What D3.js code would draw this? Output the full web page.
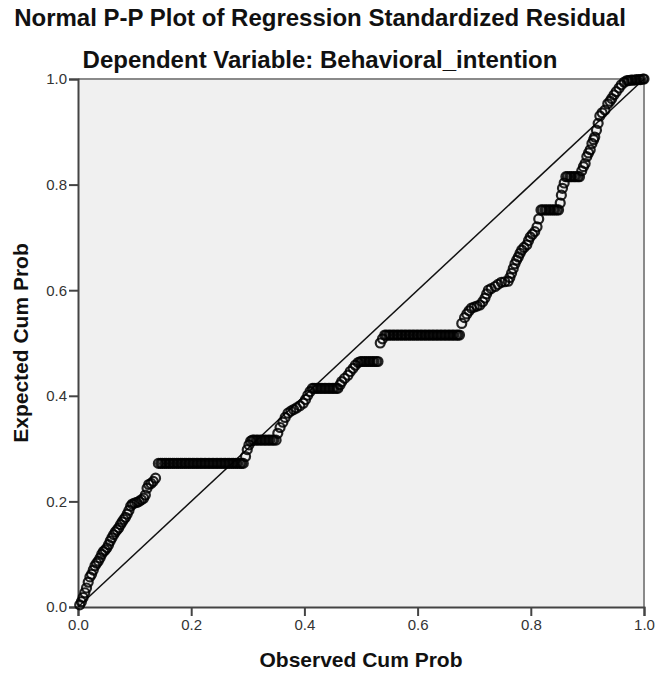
<!DOCTYPE html>
<html>
<head>
<meta charset="utf-8">
<script src="https://cdn.jsdelivr.net/npm/d3@7"></script>
<style>
  body { margin: 0; background: #fff; }
  text { font-family: "Liberation Sans", Arial, sans-serif; }
</style>
</head>
<body>
<div id="chart"></div>
<script>
// values
var titleText = "Normal P-P Plot of Regression Standardized Residual";
var subtitleText = "Dependent Variable: Behavioral_intention";
var xTicks = [0, 0.2, 0.4, 0.6, 0.8, 1.0];
var yTicks = [0, 0.2, 0.4, 0.6, 0.8, 1.0];

var observed = [
  // rise from origin (43)
  0.003, 0.006, 0.009, 0.012, 0.015, 0.018, 0.021, 0.024, 0.027, 0.030,
  0.033, 0.036, 0.039, 0.042, 0.045, 0.048, 0.051, 0.054, 0.057, 0.060,
  0.063, 0.066, 0.069, 0.072, 0.075, 0.078, 0.081, 0.084, 0.087, 0.090,
  0.093, 0.096, 0.100, 0.104, 0.108, 0.112, 0.116, 0.119, 0.122, 0.125,
  0.129, 0.133, 0.137,
  // flat at .272 (44)
  0.142, 0.146, 0.149, 0.153, 0.156, 0.160, 0.163, 0.167, 0.170, 0.174,
  0.177, 0.181, 0.184, 0.188, 0.191, 0.195, 0.198, 0.202, 0.205, 0.209,
  0.212, 0.216, 0.219, 0.223, 0.226, 0.230, 0.233, 0.237, 0.240, 0.244,
  0.247, 0.251, 0.254, 0.258, 0.261, 0.265, 0.268, 0.272, 0.275, 0.279,
  0.282, 0.286, 0.289, 0.292,
  // (4)
  0.296, 0.299, 0.302, 0.305,
  // flat at .316 (13)
  0.308, 0.311, 0.315, 0.318, 0.322, 0.325, 0.329, 0.332, 0.336, 0.339,
  0.343, 0.346, 0.350,
  // (13)
  0.353, 0.357, 0.362, 0.366, 0.371, 0.376, 0.381, 0.386, 0.392, 0.398,
  0.402, 0.406, 0.410,
  // flat at .414 (14)
  0.414, 0.417, 0.421, 0.424, 0.428, 0.431, 0.435, 0.438, 0.442, 0.445,
  0.449, 0.452, 0.456, 0.459,
  // (8)
  0.463, 0.466, 0.471, 0.477, 0.481, 0.486, 0.490, 0.495,
  // flat at .465 (10)
  0.499, 0.502, 0.506, 0.509, 0.513, 0.516, 0.520, 0.523, 0.527, 0.530,
  // jump (2)
  0.534, 0.538,
  // flat at .515 (39)
  0.542, 0.545, 0.549, 0.552, 0.556, 0.559, 0.563, 0.566, 0.570, 0.573,
  0.577, 0.580, 0.584, 0.587, 0.591, 0.594, 0.598, 0.601, 0.605, 0.608,
  0.612, 0.615, 0.619, 0.622, 0.626, 0.629, 0.633, 0.636, 0.640, 0.643,
  0.647, 0.650, 0.654, 0.657, 0.661, 0.664, 0.668, 0.671, 0.674,
  // (34)
  0.678, 0.683, 0.687, 0.691, 0.695, 0.700, 0.705, 0.710, 0.715, 0.719,
  0.722, 0.725, 0.730, 0.737, 0.742, 0.748, 0.754, 0.760, 0.763, 0.766,
  0.769, 0.772, 0.775, 0.778, 0.781, 0.784, 0.788, 0.793, 0.796, 0.799,
  0.803, 0.807, 0.811, 0.814,
  // flat at .752 (10)
  0.818, 0.821, 0.825, 0.828, 0.832, 0.835, 0.839, 0.842, 0.846, 0.849,
  // (4)
  0.852, 0.854, 0.856, 0.859,
  // flat at .815 (8)
  0.862, 0.865, 0.869, 0.872, 0.876, 0.879, 0.883, 0.886,
  // (22)
  0.890, 0.893, 0.896, 0.899, 0.902, 0.905, 0.908, 0.911, 0.913, 0.916,
  0.919, 0.922, 0.926, 0.931, 0.936, 0.940, 0.943, 0.947, 0.951, 0.956,
  0.960, 0.965,
  // top (10)
  0.970, 0.973, 0.977, 0.980, 0.984, 0.987, 0.991, 0.994, 0.998, 1.000
];

var expected = [
  0.004, 0.010, 0.018, 0.027, 0.036, 0.047, 0.057, 0.062, 0.070, 0.078,
  0.083, 0.087, 0.093, 0.100, 0.105, 0.108, 0.112, 0.118, 0.125, 0.131,
  0.137, 0.142, 0.146, 0.150, 0.156, 0.161, 0.166, 0.170, 0.176, 0.183,
  0.191, 0.195, 0.197, 0.198, 0.200, 0.203, 0.206, 0.212, 0.225, 0.232,
  0.234, 0.238, 0.244,
  0.272, 0.272, 0.272, 0.272, 0.272, 0.272, 0.272, 0.272, 0.272, 0.272,
  0.272, 0.272, 0.272, 0.272, 0.272, 0.272, 0.272, 0.272, 0.272, 0.272,
  0.272, 0.272, 0.272, 0.272, 0.272, 0.272, 0.272, 0.272, 0.272, 0.272,
  0.272, 0.272, 0.272, 0.272, 0.272, 0.272, 0.272, 0.272, 0.272, 0.272,
  0.272, 0.272, 0.272, 0.272,
  0.285, 0.298, 0.307, 0.314,
  0.316, 0.316, 0.316, 0.316, 0.316, 0.316, 0.316, 0.316, 0.316, 0.316,
  0.316, 0.316, 0.316,
  0.329, 0.340, 0.350, 0.359, 0.367, 0.371, 0.374, 0.377, 0.381, 0.386,
  0.393, 0.401, 0.408,
  0.414, 0.414, 0.414, 0.414, 0.414, 0.414, 0.414, 0.414, 0.414, 0.414,
  0.414, 0.414, 0.414, 0.414,
  0.421, 0.427, 0.433, 0.439, 0.446, 0.452, 0.458, 0.463,
  0.465, 0.465, 0.465, 0.465, 0.465, 0.465, 0.465, 0.465, 0.465, 0.465,
  0.500, 0.508,
  0.515, 0.515, 0.515, 0.515, 0.515, 0.515, 0.515, 0.515, 0.515, 0.515,
  0.515, 0.515, 0.515, 0.515, 0.515, 0.515, 0.515, 0.515, 0.515, 0.515,
  0.515, 0.515, 0.515, 0.515, 0.515, 0.515, 0.515, 0.515, 0.515, 0.515,
  0.515, 0.515, 0.515, 0.515, 0.515, 0.515, 0.515, 0.515, 0.515,
  0.537, 0.548, 0.555, 0.561, 0.566, 0.568, 0.570, 0.572, 0.578, 0.585,
  0.593, 0.600, 0.603, 0.607, 0.611, 0.615, 0.616, 0.617, 0.624, 0.632,
  0.641, 0.650, 0.657, 0.663, 0.670, 0.676, 0.681, 0.686, 0.694, 0.701,
  0.706, 0.711, 0.720, 0.735,
  0.752, 0.752, 0.752, 0.752, 0.752, 0.752, 0.752, 0.752, 0.752, 0.752,
  0.765, 0.780, 0.793, 0.803,
  0.815, 0.815, 0.815, 0.815, 0.815, 0.815, 0.815, 0.815,
  0.826, 0.834, 0.840, 0.853, 0.860, 0.866, 0.878, 0.885, 0.890, 0.903,
  0.916, 0.930, 0.936, 0.941, 0.953, 0.958, 0.963, 0.970, 0.976, 0.983,
  0.989, 0.994,
  0.997, 0.997, 0.998, 0.998, 0.998, 0.999, 0.999, 0.999, 1.000, 1.000
];

console.log("points", observed.length, expected.length);

var svgWidth = 657, svgHeight = 675;
var margin = {left: 78, top: 79, right: 13, bottom: 68};
var width = svgWidth - margin.left - margin.right,   // 566
    height = svgHeight - margin.top - margin.bottom; // 528

var svg = d3.select("#chart").append("svg")
  .attr("width", svgWidth)
  .attr("height", svgHeight);

var x = d3.scaleLinear().domain([0, 1]).range([0, width]);
var y = d3.scaleLinear().domain([0, 1]).range([height, 0]);

// titles
svg.append("text")
  .attr("x", 320).attr("y", 26)
  .attr("text-anchor", "middle")
  .attr("font-size", 24).attr("font-weight", "bold")
  .attr("fill", "#111")
  .text(titleText);

svg.append("text")
  .attr("x", 320).attr("y", 68)
  .attr("text-anchor", "middle")
  .attr("font-size", 24).attr("font-weight", "bold")
  .attr("fill", "#111")
  .text(subtitleText);

var g = svg.append("g")
  .attr("transform", "translate(" + margin.left + "," + margin.top + ")");

// plot background
g.append("rect")
  .attr("width", width).attr("height", height)
  .attr("fill", "#f0f0f0");

// top and right frame (lighter)
g.append("path")
  .attr("d", "M0,0H" + width + "V" + height)
  .attr("fill", "none").attr("stroke", "#8a8a8a").attr("stroke-width", 2);

// axes
var xAxis = g.append("g")
  .attr("transform", "translate(0," + height + ")")
  .call(d3.axisBottom(x).tickValues(xTicks).tickFormat(d3.format(".1f")).tickSize(9).tickPadding(3));
var yAxis = g.append("g")
  .call(d3.axisLeft(y).tickValues(yTicks).tickFormat(d3.format(".1f")).tickSize(9).tickPadding(2));

[xAxis, yAxis].forEach(function(a) {
  a.select(".domain").attr("stroke", "#444").attr("stroke-width", 2);
  a.selectAll(".tick line").attr("stroke", "#444").attr("stroke-width", 2);
  a.selectAll(".tick text")
    .attr("font-family", "'Liberation Sans', Arial, sans-serif")
    .attr("font-size", 15).attr("fill", "#333");
});

// reference diagonal
g.append("line")
  .attr("x1", x(0)).attr("y1", y(0))
  .attr("x2", x(1)).attr("y2", y(1))
  .attr("stroke", "#111").attr("stroke-width", 1.5);

// points
var points = observed.map(function(d, i) { return {o: d, e: expected[i]}; });
g.selectAll(".pt")
  .data(points)
  .enter().append("circle")
  .attr("class", "pt")
  .attr("cx", function(d) { return x(d.o); })
  .attr("cy", function(d) { return y(d.e); })
  .attr("r", 4.5)
  .attr("fill", "none")
  .attr("stroke", "#000")
  .attr("stroke-width", 2.2)
  .attr("stroke-opacity", 0.85);

// axis titles
svg.append("text")
  .attr("x", margin.left + width / 2).attr("y", 667)
  .attr("text-anchor", "middle")
  .attr("font-size", 21).attr("font-weight", "bold")
  .attr("fill", "#111")
  .text("Observed Cum Prob");

svg.append("text")
  .attr("transform", "translate(28," + (margin.top + height / 2) + ") rotate(-90)")
  .attr("text-anchor", "middle")
  .attr("font-size", 21).attr("font-weight", "bold")
  .attr("fill", "#111")
  .text("Expected Cum Prob");
</script>
</body>
</html>
